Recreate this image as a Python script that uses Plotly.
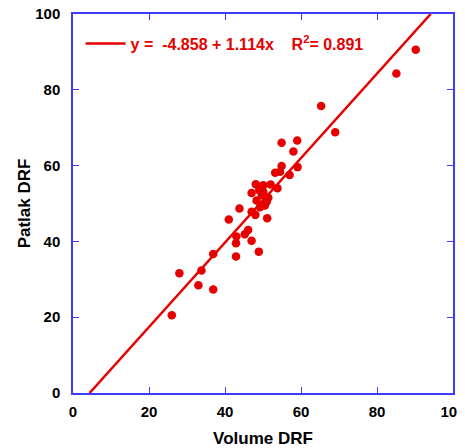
import plotly.graph_objects as go

volume_drf = [26.0, 28.0, 33.0, 33.8, 36.9, 36.9, 41.0, 42.9, 42.9, 43.0, 43.8, 45.2, 46.1,
              47.0, 47.0, 48.9, 51.1, 47.0, 48.1, 48.3, 49.2, 49.7, 50.1, 50.1, 51.0, 51.4,
              53.2, 53.8, 54.5, 54.9, 54.9, 57.0, 58.0, 59.0, 59.1, 65.3, 69.0, 85.1, 90.2,
              48.0, 50.5, 52.0, 49.0]
patlak_drf = [20.5, 31.6, 28.4, 32.3, 27.3, 36.7, 45.8, 36.0, 39.5, 41.3, 48.7, 41.9, 43.0,
              40.2, 47.8, 37.3, 46.1, 52.8, 55.1, 50.8, 49.0, 52.2, 54.8, 53.1, 50.5, 51.5,
              58.1, 54.0, 58.4, 59.9, 66.0, 57.5, 63.7, 66.6, 59.6, 75.7, 68.8, 84.3, 90.6,
              47.0, 49.5, 55.0, 53.5]

intercept = -4.858
slope = 1.114
r_squared = 0.891

tick_vals = [0, 20, 40, 60, 80, 100]

# regression line drawn across the visible y range (0..100)
x0 = (0 - intercept) / slope
x1 = (100 - intercept) / slope
line_x = [x0, x1]
line_y = [intercept + slope * v for v in line_x]

red = "#e60000"
axis_blue = "#3c3cff"

fig = go.Figure()
fig.add_trace(go.Scatter(
    x=line_x, y=line_y, mode="lines",
    line=dict(color=red, width=2.5),
    name="y =\u00a0 %.3f + %.3fx\u00a0\u00a0\u00a0\u00a0R<sup>2</sup>= %.3f" % (intercept, slope, r_squared),
    showlegend=True,
))
fig.add_trace(go.Scatter(
    x=volume_drf, y=patlak_drf, mode="markers",
    marker=dict(color=red, size=8.5, line=dict(width=0)),
    showlegend=False,
))

axis_common = dict(
    range=[0, 100], tickvals=tick_vals, ticks="inside", ticklen=6, tickwidth=1,
    tickcolor=axis_blue, showline=True, linecolor=axis_blue, linewidth=1.5,
    mirror="ticks", showgrid=False, zeroline=False, automargin=False,
    ticklabeloverflow="allow",
    tickfont=dict(family="Liberation Sans", size=15, color="black", weight="bold"),
)

# the page body adds an 8px offset, so the figure is sized to fit the window
fig.update_layout(
    width=457, height=440,
    margin=dict(l=65, r=12, t=6, b=55),
    plot_bgcolor="white", paper_bgcolor="white",
    xaxis=dict(**axis_common, ticklabelstandoff=4,
               title=dict(text="Volume DRF", standoff=17,
                          font=dict(family="Liberation Sans", size=17, color="black", weight="bold"))),
    yaxis=dict(**axis_common, ticklabelstandoff=8,
               title=dict(text="Patlak DRF", standoff=0,
                          font=dict(family="Liberation Sans", size=17, color="black", weight="bold"))),
    legend=dict(x=0.02, y=0.967, xanchor="left", yanchor="top", bgcolor="rgba(0,0,0,0)",
                itemwidth=40,
                font=dict(family="Liberation Sans", size=16, color=red, weight="bold")),
)

fig.write_html("out.html")
